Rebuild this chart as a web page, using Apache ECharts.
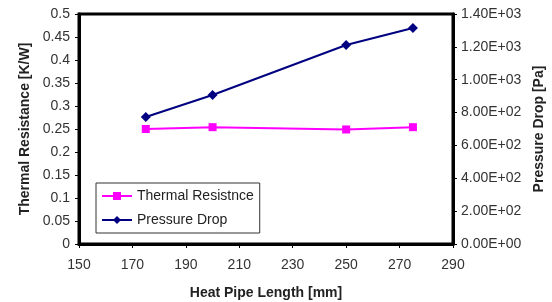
<!DOCTYPE html>
<html>
<head>
<meta charset="utf-8">
<script src="https://cdn.jsdelivr.net/npm/echarts@6/dist/echarts.min.js"></script>
<style>
  html, body { margin: 0; padding: 0; background: #fff; }
  #chart { width: 552px; height: 302px; }
</style>
</head>
<body>
<div id="chart"></div>
<script>
// data
const lengths = [175, 200, 250, 275];
const thermalResistance = [0.250, 0.254, 0.249, 0.254];
const pressureDrop = [773, 907, 1211, 1315];

// axis ranges
const xRange = [150, 290, 20];
const leftRange = [0, 0.5, 0.05];
const rightRange = [0, 1400, 200];

const FONT = "Liberation Sans, Arial, sans-serif";

// 1.40E+03 style
const sci = (v) => {
  if (v === 0) return "0.00E+00";
  const exp = Math.floor(Math.log10(Math.abs(v)));
  const mant = v / Math.pow(10, exp);
  const e = String(Math.abs(exp)).padStart(2, "0");
  return mant.toFixed(2) + "E" + (exp < 0 ? "-" : "+") + e;
};

const chart = echarts.init(document.getElementById("chart"));

const axisText = { color: "#333", fontSize: 14, fontFamily: FONT };
const nameText = { color: "#222", fontSize: 14, fontWeight: "bold", fontFamily: FONT };

chart.setOption({
  animation: false,
  grid: {
    left: 79, right: 99, top: 14, bottom: 58,
    outerBoundsMode: "none",
    show: true,
    borderColor: "#000",
    borderWidth: 3,
    backgroundColor: "#fff"
  },
  legend: {
    orient: "vertical",
    left: 96,
    top: 183,
    backgroundColor: "#fff",
    borderColor: "#333",
    borderWidth: 1,
    padding: [6, 6, 6, 5],
    itemGap: 10,
    itemWidth: 30,
    itemHeight: 10,
    textStyle: { color: "#222", fontSize: 14, fontFamily: FONT },
    data: ["Thermal Resistnce", "Pressure Drop"]
  },
  xAxis: {
    type: "value",
    min: xRange[0], max: xRange[1], interval: xRange[2],
    name: "Heat Pipe Length [mm]",
    nameLocation: "middle",
    nameGap: 42,
    nameTextStyle: nameText,
    axisLine: { lineStyle: { color: "#000", width: 3 } },
    axisTick: { show: true, length: 4, lineStyle: { color: "#000", width: 1 } },
    axisLabel: Object.assign({ margin: 14 }, axisText),
    splitLine: { show: false }
  },
  yAxis: [
    {
      type: "value",
      position: "left",
      min: leftRange[0], max: leftRange[1], interval: leftRange[2],
      name: "Thermal Resistance [K/W]",
      nameLocation: "middle",
      nameGap: 46,
      nameTextStyle: nameText,
      axisLine: { show: true, lineStyle: { color: "#000", width: 3 } },
      axisTick: { show: true, length: 4, lineStyle: { color: "#000", width: 1 } },
      axisLabel: Object.assign({ margin: 9 }, axisText),
      splitLine: { show: false }
    },
    {
      type: "value",
      position: "right",
      min: rightRange[0], max: rightRange[1], interval: rightRange[2],
      name: "Pressure Drop [Pa]",
      nameLocation: "middle",
      nameGap: 78,
      nameRotate: 90,
      nameTextStyle: nameText,
      axisLine: { show: true, lineStyle: { color: "#000", width: 3 } },
      axisTick: { show: true, length: 4, lineStyle: { color: "#000", width: 1 } },
      axisLabel: Object.assign({ margin: 8, formatter: sci }, axisText),
      splitLine: { show: false }
    }
  ],
  series: [
    {
      name: "Thermal Resistnce",
      type: "line",
      yAxisIndex: 0,
      data: lengths.map((x, i) => [x, thermalResistance[i]]),
      symbol: "rect",
      symbolSize: 8,
      color: "#ff00ff",
      lineStyle: { width: 2 },
      itemStyle: { color: "#ff00ff" }
    },
    {
      name: "Pressure Drop",
      type: "line",
      yAxisIndex: 1,
      data: lengths.map((x, i) => [x, pressureDrop[i]]),
      symbol: "diamond",
      symbolSize: 10,
      color: "#000080",
      lineStyle: { width: 2 },
      itemStyle: { color: "#000080" }
    }
  ]
});
</script>
</body>
</html>
